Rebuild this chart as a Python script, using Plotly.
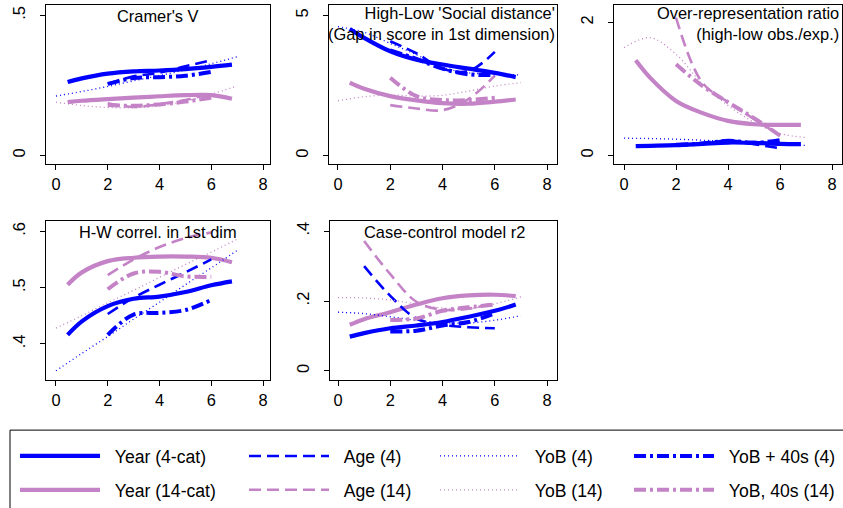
import plotly.graph_objects as go

W, H = 843, 508

# x positions along each smoothed curve
x_year = [0.45, 1, 2, 3, 4, 5, 6, 6.8]
x_age = [2, 3, 4, 5, 6]
x_age_r2 = [1, 2, 3, 4, 5, 6]
x_yob = [0, 1, 2, 3, 4, 5, 6, 7]
x_yob40 = [2, 3, 4, 5, 6]

# Cramer's V
cv_year4 = [.262, .275, .292, .300, .303, .308, .316, .324]
cv_year14 = [.190, .195, .201, .206, .211, .215, .215, .202]
cv_age4 = [.255, .282, .295, .318, .340]
cv_age14 = [.186, .173, .183, .198, .222]
cv_yob4 = [.212, .228, .246, .266, .285, .305, .327, .352]
cv_yob14 = [.190, .178, .171, .170, .177, .193, .218, .248]
cv_yob40_4 = [.255, .276, .279, .284, .298]
cv_yob40_14 = [.180, .177, .182, .192, .206]

# High-Low social distance
sd_year4 = [4.52, 4.20, 3.72, 3.42, 3.25, 3.10, 2.95, 2.80]
sd_year14 = [2.60, 2.38, 2.12, 1.97, 1.87, 1.85, 1.92, 2.00]
sd_age4 = [4.08, 3.65, 3.10, 3.02, 3.70]
sd_age14 = [1.80, 1.68, 1.62, 2.02, 2.85]
sd_yob4 = [4.60, 4.40, 4.00, 3.60, 3.15, 2.95, 2.92, 2.87]
sd_yob14 = [1.95, 2.10, 2.16, 2.12, 2.15, 2.30, 2.48, 2.60]
sd_yob40_4 = [3.75, 3.45, 3.10, 2.90, 2.88]
sd_yob40_14 = [2.78, 2.12, 1.98, 1.98, 2.06]

# Over-representation ratio
or_year4 = [.14, .145, .155, .175, .195, .19, .175, .17]
or_year14 = [1.43, 1.17, .82, .64, .52, .47, .46, .46]
or_age4 = [.15, .17, .23, .17, .11]
or_age14 = [2.07, 1.10, .80, .55, .30]
or_yob4 = [.26, .255, .245, .23, .215, .20, .175, .15]
or_yob14 = [1.62, 1.77, 1.52, 1.08, .75, .50, .33, .27]
or_yob40_4 = [.16, .18, .22, .19, .23]
or_yob40_14 = [1.37, 1.05, .80, .56, .30]

# H-W correlation
hw_year4 = [.416, .440, .467, .480, .484, .492, .504, .511]
hw_year14 = [.505, .527, .547, .553, .555, .555, .553, .545]
hw_age4 = [.453, .482, .505, .527, .550]
hw_age14 = [.522, .550, .572, .588, .598]
hw_yob4 = [.352, .383, .413, .444, .474, .505, .535, .566]
hw_yob14 = [.428, .450, .473, .495, .518, .541, .563, .586]
hw_yob40_4 = [.416, .452, .455, .460, .478]
hw_yob40_14 = [.497, .525, .528, .520, .519]

# Case-control r2
r2_year4 = [.098, .108, .122, .130, .140, .155, .172, .190]
r2_year14 = [.132, .148, .168, .190, .208, .216, .218, .214]
r2_age4 = [.300, .215, .150, .132, .125, .122]
r2_age14 = [.372, .277, .198, .175, .178, .195]
r2_yob4 = [.168, .164, .155, .145, .138, .137, .145, .158]
r2_yob14 = [.210, .209, .203, .192, .180, .178, .192, .212]
r2_yob40_4 = [.113, .115, .130, .140, .165]
r2_yob40_14 = [.146, .150, .172, .182, .190]

BLUE = "#0000ff"
ORCHID = "#c383c6"
FONT = "Liberation Sans, Arial, sans-serif"
FS = 16.4
LFS = 17.6

# name, legend column, colour, dash, width
series = [
    ("Year (4-cat)", "legend", BLUE, "solid", 4.2),
    ("Year (14-cat)", "legend", ORCHID, "solid", 4.2),
    ("Age (4)", "legend2", BLUE, "12px,6px", 2.6),
    ("Age (14)", "legend2", ORCHID, "12px,6px", 2.6),
    ("YoB (4)", "legend3", BLUE, "1px,3px", 1.3),
    ("YoB (14)", "legend3", ORCHID, "1px,3px", 1.3),
    ("YoB + 40s (4)", "legend4", BLUE, "12px,4px,3px,4px", 4),
    ("YoB, 40s (14)", "legend4", ORCHID, "12px,4px,3px,4px", 4),
]

panels = [
    dict(xs=[x_year, x_year, x_age, x_age, x_yob, x_yob, x_yob40, x_yob40],
         ys=[cv_year4, cv_year14, cv_age4, cv_age14, cv_yob4, cv_yob14, cv_yob40_4, cv_yob40_14]),
    dict(xs=[x_year, x_year, x_age, x_age, x_yob, x_yob, x_yob40, x_yob40],
         ys=[sd_year4, sd_year14, sd_age4, sd_age14, sd_yob4, sd_yob14, sd_yob40_4, sd_yob40_14]),
    dict(xs=[x_year, x_year, x_age, x_age, x_yob, x_yob, x_yob40, x_yob40],
         ys=[or_year4, or_year14, or_age4, or_age14, or_yob4, or_yob14, or_yob40_4, or_yob40_14]),
    dict(xs=[x_year, x_year, x_age, x_age, x_yob, x_yob, x_yob40, x_yob40],
         ys=[hw_year4, hw_year14, hw_age4, hw_age14, hw_yob4, hw_yob14, hw_yob40_4, hw_yob40_14]),
    dict(xs=[x_year, x_year, x_age_r2, x_age_r2, x_yob, x_yob, x_yob40, x_yob40],
         ys=[r2_year4, r2_year14, r2_age4, r2_age14, r2_yob4, r2_yob14, r2_yob40_4, r2_yob40_14]),
]

# pixel boxes of the plot regions (left, right, top, bottom) and axis ranges
boxes = [(46, 270, 5, 167), (329, 557, 5, 167), (614, 842, 5, 167),
         (46, 270, 225, 386), (330, 557, 225, 386)]
xranges = [[-0.386, 8.27], [-0.344, 8.38], [-0.385, 8.38], [-0.386, 8.27], [-0.306, 8.38]]
yranges = [[-0.032, 0.537], [-0.316, 5.376], [-0.133, 2.262], [0.3358, 0.6175], [-0.026, 0.428]]
yticks = [([0, 0.5], ["0", ".5"]), ([0, 5], ["0", "5"]), ([0, 2], ["0", "2"]),
          ([0.4, 0.5, 0.6], [".4", ".5", ".6"]), ([0, 0.2, 0.4], ["0", ".2", ".4"])]

fig = go.Figure()
layout = {}
for i, p in enumerate(panels):
    n = "" if i == 0 else str(i + 1)
    for j, (name, leg, col, dash, w) in enumerate(series):
        fig.add_trace(go.Scatter(
            x=p["xs"][j], y=p["ys"][j], mode="lines", name="\u00a0\u00a0" + name,
            line=dict(color=col, dash=dash, width=w, shape="spline"),
            xaxis="x" + n, yaxis="y" + n, legend=leg, legendgroup=name,
            showlegend=(i == 0), hoverinfo="skip"))
    l, r, t, b = boxes[i]
    layout["xaxis" + n] = dict(
        domain=[l / W, r / W], range=xranges[i], anchor="y" + n,
        tickvals=[0, 2, 4, 6, 8], showline=True, linecolor="black", mirror=True,
        ticks="outside", ticklen=5, tickcolor="black", showgrid=False, zeroline=False,
        tickfont=dict(size=FS, color="black", family=FONT))
    layout["yaxis" + n] = dict(
        domain=[1 - b / H, 1 - t / H], range=yranges[i], anchor="x" + n,
        tickvals=yticks[i][0], ticktext=yticks[i][1], tickangle=-90,
        ticklabelstandoff=8,
        showline=True, linecolor="black", mirror=True,
        ticks="outside", ticklen=5, tickcolor="black", showgrid=False, zeroline=False,
        tickfont=dict(size=FS, color="black", family=FONT))

titles = [
    ("Cramer's V", 158 / W, 16 / H, "center"),
    ("High-Low 'Social distance'<br>(Gap in score in 1st dimension)", 557 / W, 24 / H, "right"),
    ("Over-representation ratio<br>(high-low obs./exp.)", 841 / W, 24 / H, "right"),
    ("H-W correl. in 1st dim", 158 / W, 236 / H, "center"),
    ("Case-control model r2", 445 / W, 236 / H, "center"),
]
annotations = []
for text, x, y, al in titles:
    annotations.append(dict(
        text=text, x=x, y=1 - y, xref="paper", yref="paper", showarrow=False,
        xanchor="right" if al == "right" else "center", yanchor="middle", align=al,
        font=dict(size=FS, color="black", family=FONT)))

legend_x = [20, 249, 440, 634]
for k, lx in enumerate(legend_x):
    key = "legend" if k == 0 else "legend" + str(k + 1)
    layout[key] = dict(
        x=(lx - 5) / W, y=1 - 445 / H, xanchor="left", yanchor="top",
        orientation="v", bgcolor="rgba(0,0,0,0)", itemwidth=80, tracegroupgap=8,
        font=dict(size=LFS, color="black", family=FONT))

fig.update_layout(
    width=W, height=H, margin=dict(l=0, r=0, t=0, b=0),
    paper_bgcolor="white", plot_bgcolor="white",
    annotations=annotations,
    shapes=[dict(type="rect", xref="paper", yref="paper",
                 x0=10 / W, x1=1.02, y0=-0.05, y1=1 - 437 / H,
                 line=dict(color="black", width=1))],
    **layout)

# the page body has a default 8px margin; drop it so the figure sits at the corner
fig.write_html("out.html", config={"displayModeBar": False},
               post_script="document.body.style.margin='0';")
